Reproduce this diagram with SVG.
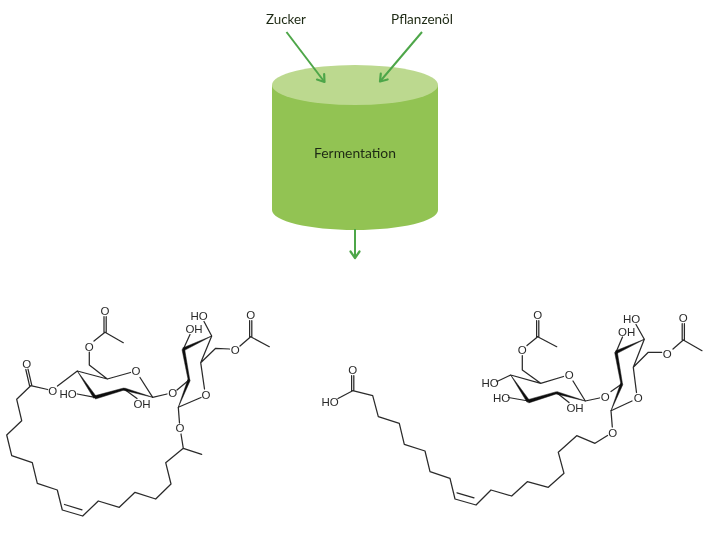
<svg xmlns="http://www.w3.org/2000/svg" width="710" height="536" viewBox="0 0 710 536">
<style>
.b{fill:none;stroke:#2a2a2a;stroke-width:1.25;stroke-linejoin:round;stroke-linecap:round}
.w{fill:#111;stroke:#111;stroke-width:.5;stroke-linejoin:round}
.a{font-family:"Liberation Sans",Arial,sans-serif;font-size:11.5px;fill:#2a2a2a;text-anchor:middle;dominant-baseline:central}
.l{font-family:"Lato","Liberation Sans",sans-serif;font-size:14px;fill:#1f2a14;text-anchor:middle;dominant-baseline:central}
.c{fill:none;stroke:#4ea649;stroke-width:2;stroke-linecap:butt}
.s{filter:url(#soft)}
</style>
<defs>
<marker id="h" markerUnits="userSpaceOnUse" markerWidth="14" markerHeight="14" refX="10" refY="6" orient="auto"><path d="M3.500 1.500L10 6L3.500 10.500" fill="none" stroke="#4ea649" stroke-width="2.200" stroke-linecap="round" stroke-linejoin="round"/></marker>
<filter id="soft" x="-5%" y="-5%" width="110%" height="110%"><feGaussianBlur stdDeviation="0.3"/></filter>
</defs>
<rect width="710" height="536" fill="#fff"/>
<g id="fermenter" class="s">
<path d="M272 85V210C272 221 309 230 355 230S438 221 438 210V85Z" fill="#92c353"/>
<ellipse cx="355" cy="85" rx="83" ry="20" fill="#bcd98f"/>
<text class="l" x="355" y="152" textLength="82" lengthAdjust="spacingAndGlyphs">Fermentation</text>
</g>
<g id="label-zucker" class="s"><text class="l" x="286" y="18.500" textLength="40" lengthAdjust="spacingAndGlyphs">Zucker</text></g>
<g id="label-pflanzenoel" class="s"><text class="l" x="422" y="18.500" textLength="62" lengthAdjust="spacingAndGlyphs">Pflanzenöl</text></g>
<g id="connectors" class="s">
<path class="c" marker-end="url(#h)" d="M286.500 32L324.500 82"/>
<path class="c" marker-end="url(#h)" d="M422 32L380 81.500"/>
<path class="c" marker-end="url(#h)" d="M355 229V258"/>
</g>
<g id="molecule-lactone" class="s">
<path class="b" d="M104 316.500V332.500M106.200 316.500V332.500M105 332.300L123.300 342.700M105 332.300L94 341M89.300 352V365L107.300 379L130.500 372.500M140 377.500L152.700 397.300L167 394M77.300 371L107.300 379M77.300 371L57.500 386M47.700 389.500L30.700 385.700L16.700 399.300L21.700 420.700L6.700 435L11.700 455.700L32.300 462.700L37.300 483.300L57.300 490L62.300 510L82.700 516L98.300 501L119.300 507.300L135 492.300L155.700 499L171 484L165.700 462.700L183.300 448.300L201.700 454.300M183.300 448.300L181 434M179.500 423L178.300 407.300L201 397.500M204.500 389L200.700 362.700L211.700 336L204 321.500M200.700 362.700L215.700 348.300L229.500 349M240 346L250.700 336.700L269.300 346.700M249.600 320.500V336.700M251.800 320.500V336.700M183.300 349.300L190 334.500M177 390L189 380M77.300 394L95 397.300M124 389L137 398.500"/>
<path class="b" d="M29.600 385.900L25.800 369.500M31.800 385.400L28 369.100M64.500 504.500L82 509.800"/>
<polygon class="w" points="77.300,371 93.800,398.300 96.200,396.400"/>
<polygon class="w" points="94.600,395.800 123.800,388 124.200,390 95.400,399"/>
<polygon class="w" points="123.500,390.200 124.500,388 152.700,397.300"/>
<polygon class="w" points="178.300,407.300 187.800,379.600 190.200,380.400"/>
<polygon class="w" points="182,349.500 184.600,349.100 189.800,380 188.200,380"/>
<polygon class="w" points="182.600,348 184,350.600 211.700,336"/>
<text class="a" x="105" y="310.700">O</text><text class="a" x="89.300" y="346.500">O</text><text class="a" x="136" y="371">O</text><text class="a" x="52.700" y="391">O</text><text class="a" x="26.700" y="363.500">O</text><text class="a" x="68" y="393.500">HO</text><text class="a" x="142" y="404">OH</text><text class="a" x="172.700" y="393.300">O</text><text class="a" x="206" y="395">O</text><text class="a" x="180" y="428.300">O</text><text class="a" x="199" y="315.500">HO</text><text class="a" x="194" y="329">OH</text><text class="a" x="235.300" y="349.500">O</text><text class="a" x="250.700" y="315">O</text>
</g>
<g id="molecule-acid" class="s">
<path class="b" d="M536.600 320.500V336.700M538.800 320.500V336.700M537.700 336.700L556.700 346.700M537.700 336.700L527 345.500M522.300 355.500V370L540.700 383.300L563.500 376.500M573 381L585.300 401L599.500 398M510.700 375L540.700 383.300M510.700 375L497 381.500M528.300 401L508.500 397.500M556.700 392.700L569 402.500M611 391.500L621.700 384M611 410.700L632 401M636.500 392.500L633.300 367.300L644.300 339.300L636 324.500M616 352.300L622.500 337M633.300 367.300L648.300 352.300L661.700 352.300M673 349L683.300 340L702 350.700M682.200 323.500V340M684.400 323.500V340M611 410.700L612.300 427M607.500 435.500L595 443.300L576.700 435.700L558.300 452.300L564 473.300L548.300 487.300L527.300 481.700L511.700 496L491 490L476 505L455 499L450 478.300L430 471.700L425 451L404.300 444.300L399.300 423.300L378.300 416.700L372.700 395.700L352.700 390.700L338 398.500M351.600 375.500V390.700M353.800 375.500V390.700M457 492.800L474 497.800"/>
<polygon class="w" points="510.700,375 527.100,402.300 529.500,400.400"/>
<polygon class="w" points="527.900,399.700 556.500,391.700 556.900,393.700 528.700,402.900"/>
<polygon class="w" points="556.200,393.900 557.200,391.700 585.300,401"/>
<polygon class="w" points="611,410.700 620.500,383.600 622.900,384.400"/>
<polygon class="w" points="614.700,352.500 617.300,352.100 622.500,384 620.900,384"/>
<polygon class="w" points="615.300,351 616.700,353.600 644.300,339.300"/>
<text class="a" x="537.700" y="315">O</text><text class="a" x="522.300" y="350">O</text><text class="a" x="569.300" y="375">O</text><text class="a" x="490" y="383">HO</text><text class="a" x="501.700" y="397.500">HO</text><text class="a" x="575" y="407.500">OH</text><text class="a" x="605.300" y="396.700">O</text><text class="a" x="638.300" y="398.300">O</text><text class="a" x="631.700" y="318.800">HO</text><text class="a" x="626.700" y="332.300">OH</text><text class="a" x="667.300" y="353.500">O</text><text class="a" x="683.300" y="318">O</text><text class="a" x="612.700" y="432.700">O</text><text class="a" x="352.700" y="370">O</text><text class="a" x="330" y="401.700">HO</text>
</g>
</svg>
